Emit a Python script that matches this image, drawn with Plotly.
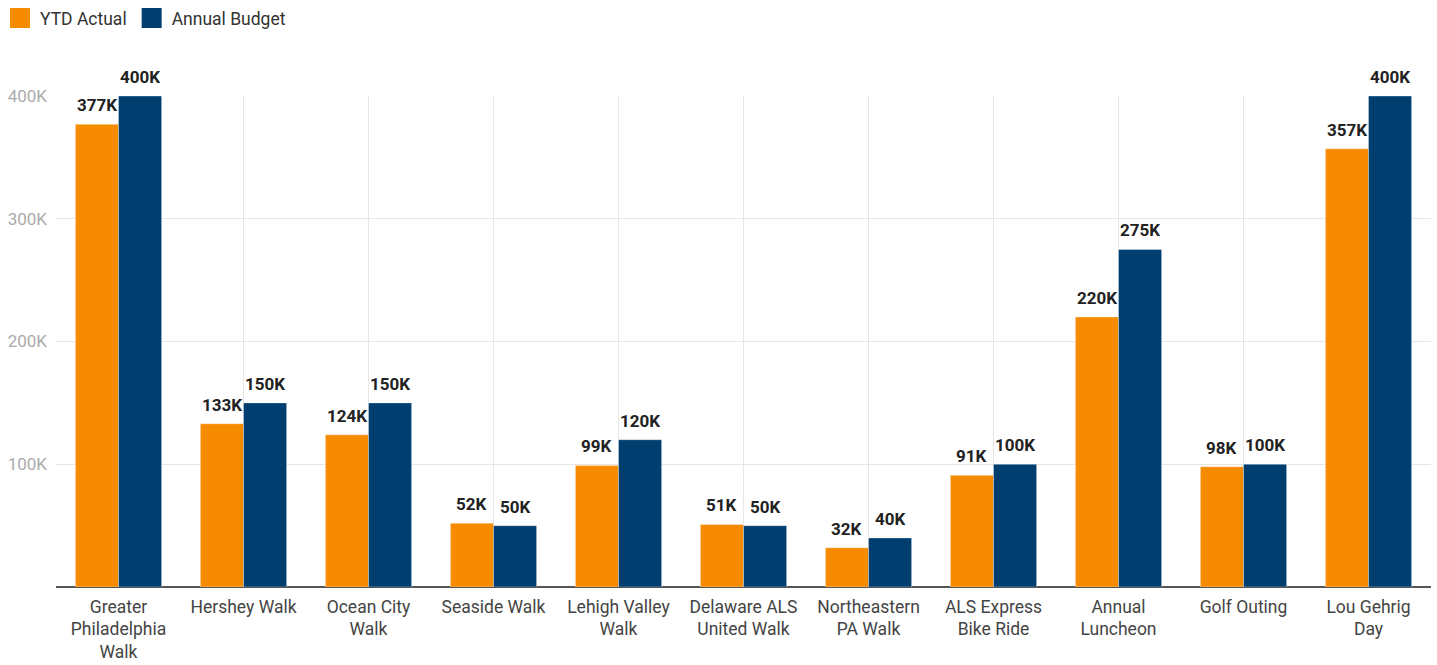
import plotly.graph_objects as go

categories = [
    "Greater<br>Philadelphia<br>Walk", "Hershey Walk", "Ocean City<br>Walk", "Seaside Walk",
    "Lehigh Valley<br>Walk", "Delaware ALS<br>United Walk", "Northeastern<br>PA Walk",
    "ALS Express<br>Bike Ride", "Annual<br>Luncheon", "Golf Outing", "Lou Gehrig<br>Day",
]
ytd_actual = [377000, 133000, 124000, 52000, 99000, 51000, 32000, 91000, 220000, 98000, 357000]
annual_budget = [400000, 150000, 150000, 50000, 120000, 50000, 40000, 100000, 275000, 100000, 400000]
y_tickvals = [100000, 200000, 300000, 400000]
y_ticktext = ["100K", "200K", "300K", "400K"]

ORANGE = "#F78B00"
BLUE = "#003E70"
FONT = "Roboto"
BARGAP = 0.31

W, H = 1437, 665
ml, mr, mt, mb = 56, 6, 96, 78
ph = H - mt - mb
pw = W - ml - mr


def k_label(v):
    return f"{round(v / 1000)}K"


fig = go.Figure()
series = [("YTD Actual", ytd_actual, ORANGE), ("Annual Budget", annual_budget, BLUE)]
for name, vals, color in series:
    fig.add_trace(go.Bar(
        x=categories, y=vals, name=name,
        marker=dict(color=color, line=dict(color="rgba(255,255,255,0.6)", width=0.6)),
        showlegend=False, hoverinfo="skip",
    ))
    # legend entry with larger square swatch
    fig.add_trace(go.Scatter(
        x=[None], y=[None], name=name, mode="markers",
        marker=dict(symbol="square", size=16, color=color, line=dict(color=color, width=4)),
        showlegend=True, hoverinfo="skip",
    ))

# value labels above each bar (anchored at data coordinates, shifted to the bar's slot)
cat_px = pw / len(categories)
bar_px = cat_px * (1 - BARGAP) / len(series)
annotations = []
for i, (name, vals, color) in enumerate(series):
    shift = (i - (len(series) - 1) / 2) * bar_px
    for c, v in zip(categories, vals):
        annotations.append(dict(
            x=c, y=v, xref="x", yref="y", text=k_label(v), showarrow=False,
            xanchor="center", yanchor="bottom", xshift=shift, yshift=7,
            font=dict(family=FONT, size=17, color="#222222", weight="bold"),
        ))

fig.update_layout(
    width=W, height=H,
    margin=dict(l=ml, r=mr, t=mt, b=mb, pad=0),
    paper_bgcolor="white", plot_bgcolor="white",
    barmode="group", bargap=BARGAP, bargroupgap=0,
    font=dict(family=FONT, size=17, color="#444444"),
    annotations=annotations,
    legend=dict(
        orientation="h", xref="container", yref="container",
        x=-5 / W, xanchor="left", y=1, yanchor="top",
        font=dict(family=FONT, size=17.5, color="#333333"),
        itemclick=False, itemdoubleclick=False, traceorder="normal",
        itemwidth=30,
    ),
    xaxis=dict(
        type="category", showgrid=True, gridcolor="#E6E6E6", gridwidth=1,
        showline=False, ticks="", ticklabelstandoff=7,
        tickfont=dict(family=FONT, size=17.5, color="#444444"),
        fixedrange=True, automargin=False,
    ),
    yaxis=dict(
        range=[0, 400000], tickvals=y_tickvals, ticktext=y_ticktext,
        showgrid=True, gridcolor="#E6E6E6", gridwidth=1,
        zeroline=True, zerolinecolor="#555555", zerolinewidth=2,
        showline=False, ticks="", ticklabelstandoff=8,
        tickfont=dict(family=FONT, size=17, color="#AAAAAA"),
        fixedrange=True, automargin=False,
    ),
)

fig.write_html("out.html")
